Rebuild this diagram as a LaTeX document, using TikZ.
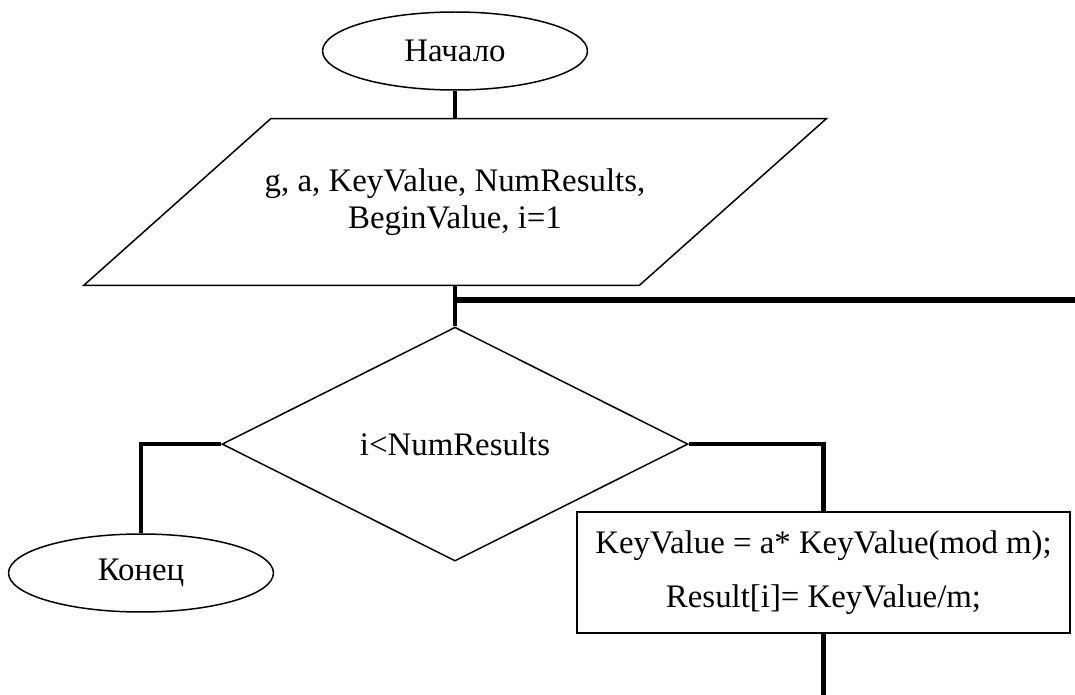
\documentclass[tikz,border=0pt]{standalone}
\usepackage{fontspec}
\setmainfont{Liberation Serif}
\usetikzlibrary{shapes.geometric,positioning}
\tikzset{
  term/.style     = {ellipse, draw, line width=0.85pt, inner sep=0pt,
                     minimum width=5.3cm, minimum height=1.56cm},
  io/.style       = {rectangle, inner sep=0pt, align=center,
                     minimum width=11.1cm, minimum height=3.32cm,
                     font=\fontsize{18.7}{21}\selectfont},
  ioedge/.style   = {draw, line width=0.85pt},
  decision/.style = {diamond, draw, line width=0.85pt, inner sep=0pt,
                     aspect=2, minimum width=9.32cm, minimum height=4.68cm},
  procbox/.style  = {rectangle, draw, line width=0.85pt, align=center,
                     minimum width=9.86cm, minimum height=2.42cm,
                     font=\fontsize{18.7}{31}\selectfont},
  flow/.style     = {line width=2.55pt},
}
\begin{document}
\begin{tikzpicture}[x=0.02cm, y=-0.02cm,
                    every node/.style={font=\fontsize{18.7}{21}\selectfont}]
\useasboundingbox (0,0) rectangle (1075,695);

\node[term] (start) at (455,51) {Начало};
\node[io, below=0.56cm of start] (input)
  {g, a, KeyValue, NumResults,\\BeginValue, i=1};
\draw[ioedge] ([xshift=-1.87cm]input.south west) -- ([xshift=1.87cm]input.north west)
  -- ([xshift=1.87cm]input.north east) -- ([xshift=-1.87cm]input.south east) -- cycle;
\node[decision, below=0.82cm of input] (cond) {i<NumResults};

%% branches
\node[term] (stop) at (141,573) {Конец};
\node[procbox] (calc) at (823.5,572.5)
  {KeyValue = a* KeyValue(mod m);\\Result[i]= KeyValue/m;};

\coordinate (back) at (1075,300);
\coordinate (down) at (823.5,695);

%% connectors
\draw[flow] (start.south) -- (input.north);
\draw[flow] (input.south) -- (cond.north);
\draw[flow, line width=3.4pt] (input.south |- back) -- (back);
\draw[flow] (cond.west) -| (stop.north);
\draw[flow] (cond.east) -| (calc.north);
\draw[flow] (calc.south) -- (calc.south |- down);

\end{tikzpicture}
\end{document}
